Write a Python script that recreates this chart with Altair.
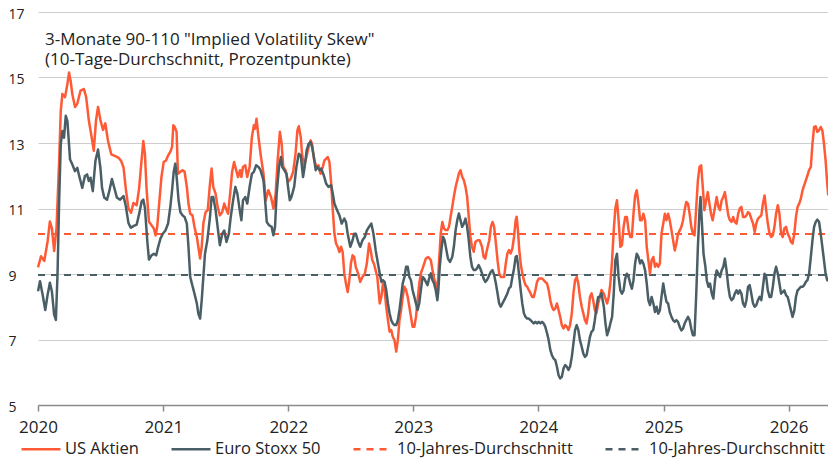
import altair as alt
import numpy as np
import pandas as pd

START = (2020, 1, 1)
END = (2026, 4, 26)

# time offsets in years since 2020-01-01 and values (percentage points)
US_T = [0.000, 0.024, 0.050, 0.077, 0.095, 0.111, 0.129, 0.148, 0.169, 0.182, 0.195, 0.216, 0.235, 0.248, 0.261,
        0.274, 0.296, 0.314, 0.340, 0.367, 0.385, 0.406, 0.428, 0.446, 0.464, 0.480, 0.499, 0.520, 0.538, 0.560,
        0.586, 0.618, 0.644, 0.665, 0.684, 0.702, 0.723, 0.744, 0.763, 0.789, 0.808, 0.823, 0.842, 0.855, 0.868,
        0.887,
        0.926, 0.940, 0.953, 0.971, 0.987, 1.005, 1.024, 1.040, 1.058, 1.072, 1.082, 1.093, 1.108, 1.119, 1.138,
        1.156, 1.172, 1.190, 1.203, 1.217, 1.235, 1.251, 1.270, 1.282, 1.296, 1.309, 1.322, 1.340, 1.357, 1.375,
        1.388, 1.401, 1.420, 1.436, 1.454, 1.473, 1.489, 1.507, 1.520, 1.539, 1.552, 1.568, 1.584, 1.599, 1.615,
        1.626, 1.639, 1.657, 1.673, 1.692, 1.710, 1.726, 1.736, 1.747, 1.763, 1.779,
        1.803, 1.821, 1.842, 1.863, 1.882, 1.900, 1.916, 1.934, 1.948, 1.961, 1.979, 1.999, 2.021, 2.040, 2.059,
        2.074, 2.085, 2.101, 2.111, 2.127, 2.146, 2.164, 2.180, 2.191, 2.206, 2.225, 2.243, 2.259, 2.277, 2.290,
        2.304, 2.317, 2.330, 2.344, 2.357, 2.370, 2.383, 2.396, 2.410, 2.423, 2.436, 2.449, 2.462, 2.476, 2.489,
        2.502, 2.515, 2.528, 2.541, 2.560, 2.576, 2.594, 2.613, 2.629, 2.647, 2.660, 2.673, 2.687,
        2.713, 2.732, 2.745, 2.758, 2.771, 2.784, 2.798, 2.811, 2.824, 2.837, 2.850, 2.864, 2.877, 2.890, 2.903,
        2.916, 2.930, 2.943, 2.956, 2.969, 2.982, 2.995, 3.009, 3.022, 3.035, 3.048, 3.061, 3.075, 3.088, 3.101,
        3.120, 3.141, 3.154, 3.167, 3.180, 3.193, 3.207, 3.220, 3.233, 3.246, 3.259, 3.273, 3.286, 3.299, 3.312,
        3.325, 3.339, 3.352, 3.365, 3.378, 3.391, 3.405, 3.418, 3.431, 3.444, 3.457, 3.470, 3.484, 3.497, 3.515,
        3.531, 3.550, 3.563, 3.576, 3.589,
        3.608, 3.621, 3.634, 3.647, 3.661, 3.674, 3.687, 3.700, 3.713, 3.727, 3.740, 3.753, 3.766, 3.779, 3.793,
        3.806, 3.819, 3.827, 3.837, 3.848, 3.859, 3.872, 3.885, 3.898, 3.911, 3.924, 3.938, 3.951, 3.964, 3.977,
        3.990, 4.004, 4.017, 4.030, 4.043, 4.056, 4.070, 4.083, 4.096, 4.109, 4.122, 4.136, 4.149, 4.162, 4.175,
        4.188, 4.202, 4.215, 4.228, 4.241, 4.254, 4.268, 4.281, 4.294, 4.307, 4.320, 4.333, 4.347, 4.360, 4.373,
        4.386, 4.399, 4.413, 4.426, 4.439, 4.452, 4.465, 4.479, 4.492, 4.505,
        4.524, 4.537, 4.550, 4.563, 4.576, 4.590, 4.603, 4.616, 4.629, 4.642, 4.656, 4.669, 4.682, 4.695, 4.708,
        4.722, 4.735, 4.748, 4.761, 4.774, 4.787, 4.801, 4.814, 4.827, 4.840, 4.854, 4.867, 4.880, 4.893, 4.906,
        4.920, 4.933, 4.946, 4.959, 4.972, 4.985, 4.999, 5.012, 5.025, 5.038, 5.051, 5.065, 5.078, 5.091, 5.104,
        5.117, 5.131, 5.144, 5.157, 5.170, 5.183, 5.197, 5.210, 5.223, 5.236, 5.249, 5.263, 5.276, 5.289, 5.302,
        5.315, 5.328, 5.342, 5.355, 5.368, 5.381, 5.394,
        5.413, 5.426, 5.440, 5.453, 5.466, 5.479, 5.492, 5.505, 5.519, 5.532, 5.545, 5.558, 5.571, 5.585, 5.598,
        5.611, 5.624, 5.637, 5.651, 5.664, 5.677, 5.690, 5.703, 5.717, 5.730, 5.743, 5.756, 5.769, 5.783, 5.796,
        5.809, 5.822, 5.835, 5.849, 5.862, 5.875, 5.888, 5.901, 5.915, 5.928, 5.941, 5.954, 5.967, 5.981, 5.994,
        6.007, 6.020, 6.033, 6.047, 6.060, 6.073, 6.086, 6.099, 6.113, 6.126, 6.139, 6.152, 6.165, 6.179, 6.192,
        6.205, 6.218, 6.231, 6.245, 6.258, 6.271, 6.284, 6.297, 6.310, 6.318]
US_V = [9.2, 9.54, 9.4, 10.0, 10.6, 10.4, 9.7, 10.4, 12.45, 13.98, 14.5, 14.4, 14.8, 15.15, 14.9,
        14.5, 14.1, 14.2, 14.6, 14.65, 14.4, 13.7, 13.2, 12.76, 13.7, 14.1, 13.7, 13.4, 13.6, 13.06,
        12.65, 12.6, 12.55, 12.45, 12.25, 11.6, 11.0, 10.87, 11.17, 11.1, 11.6, 12.25, 13.06, 12.65, 11.6,
        10.6,
        10.39, 10.18, 10.44, 11.25, 11.96, 12.42, 12.47, 12.62, 12.73, 12.88, 13.54, 13.49, 13.34, 12.06, 12.12,
        12.17, 12.12, 11.66, 11.15, 10.84, 10.79, 10.44, 10.13, 9.83, 9.47, 9.83, 10.54, 10.89, 10.95, 11.76,
        12.22, 11.66, 11.45, 11.05, 10.79, 10.89, 11.15, 10.95, 10.84, 11.56, 12.12, 12.42, 12.17, 11.96, 12.17,
        11.96, 12.27, 12.32, 11.96, 12.27, 13.18, 13.54, 13.44, 13.74, 13.18, 12.67,
        12.06, 11.25, 11.56, 11.35, 11.0, 11.45, 12.47, 13.34, 12.98, 12.27, 12.17, 11.81, 11.91, 12.12, 12.67,
        13.39, 13.51, 13.18, 12.67, 12.27, 12.57, 12.88, 13.08, 12.98, 12.52, 12.27, 12.32, 12.06, 12.27, 12.47,
        12.52, 12.57, 12.42, 11.76, 10.95, 10.23, 9.93, 9.83, 9.67, 9.83, 9.67, 9.01, 8.71, 8.45, 8.81,
        9.32, 9.57, 9.52, 9.21, 9.01, 8.76, 8.91, 9.01, 9.32, 9.93, 9.72, 9.42, 9.3,
        8.91, 8.1, 8.3, 8.71, 8.51, 8.0, 7.59, 7.24, 7.29, 7.08, 6.98, 6.63, 6.98, 7.59, 7.9,
        8.3, 8.61, 8.51, 8.3, 8.0, 7.69, 7.39, 7.39, 7.69, 8.2, 8.71, 9.02, 9.17, 9.32, 9.47,
        9.52, 9.42, 9.12, 8.86, 8.71, 8.41, 9.42, 10.24, 10.59, 10.39, 10.34, 10.34, 10.44, 10.75, 11.05,
        11.36, 11.66, 11.86, 12.07, 12.17, 11.97, 11.86, 11.66, 11.36, 10.75, 10.14, 9.83, 9.68, 9.98, 10.03,
        10.03, 9.83, 9.52, 9.47, 9.73,
        10.03, 10.44, 10.59, 10.44, 9.93, 9.42, 9.02, 8.91, 8.91, 8.91, 9.32, 9.63, 9.73, 9.63, 9.78,
        10.14, 10.64, 10.75, 10.34, 9.73, 9.32, 9.02, 8.81, 8.66, 8.61, 8.51, 8.41, 8.3, 8.3, 8.51,
        8.76, 8.86, 8.86, 8.86, 8.81, 8.76, 8.71, 8.51, 8.2, 8.0, 7.9, 7.95, 8.1, 7.9, 7.69,
        7.44, 7.34, 7.44, 7.39, 7.29, 7.44, 7.8, 8.41, 8.81, 8.91, 8.71, 8.3, 8.0, 7.8, 7.59,
        7.49, 7.8, 8.3, 8.41, 8.2, 7.9, 7.8, 8.1, 8.3, 8.51,
        8.4, 8.25, 8.1, 8.3, 8.71, 9.42, 10.33, 11.0, 11.25, 10.64, 9.83, 9.88, 10.44, 10.74, 10.74,
        10.33, 10.13, 10.13, 10.84, 11.4, 11.56, 11.15, 10.64, 10.64, 10.84, 10.64, 9.83, 9.42, 9.01, 9.42,
        9.52, 9.22, 9.32, 9.22, 9.32, 10.23, 10.54, 10.84, 10.64, 10.84, 10.64, 10.33, 10.03, 9.72, 9.93,
        10.23, 10.33, 10.44, 10.64, 10.95, 11.2, 11.15, 10.84, 10.44, 10.23, 10.18, 11.05, 11.86, 12.27, 12.32,
        11.66, 10.95, 11.25, 11.5, 11.15, 10.84, 10.64,
        11.05, 11.35, 11.05, 10.95, 11.25, 11.35, 11.5, 11.15, 10.79, 10.64, 10.59, 10.74, 10.59, 10.54, 10.84,
        11.0, 11.05, 10.74, 10.74, 10.79, 10.89, 10.84, 10.69, 10.54, 10.28, 10.54, 10.69, 10.74, 10.79, 11.15,
        11.4, 10.95, 10.54, 10.23, 10.13, 10.18, 10.44, 10.84, 11.1, 10.84, 10.23, 10.13, 10.39, 10.44, 10.23,
        10.13, 9.98, 9.93, 10.23, 10.74, 11.05, 11.15, 11.3, 11.56, 11.71, 11.86, 12.01, 12.17, 12.27, 12.98,
        13.49, 13.51, 13.34, 13.39, 13.49, 13.39, 12.98, 12.47, 11.76, 11.4]

EU_T = [0.000, 0.016, 0.037, 0.058, 0.077, 0.095, 0.111, 0.129, 0.143, 0.156, 0.169, 0.182, 0.195, 0.208, 0.222,
        0.235, 0.248, 0.256, 0.274, 0.296, 0.314, 0.333, 0.354, 0.375, 0.393, 0.406, 0.420, 0.438, 0.459, 0.480,
        0.499, 0.512, 0.530, 0.552, 0.570, 0.591, 0.610, 0.631, 0.657, 0.684, 0.702, 0.723, 0.742, 0.763, 0.789,
        0.808, 0.829, 0.842, 0.855, 0.874, 0.887,
        0.908, 0.926, 0.945, 0.961, 0.979, 0.998, 1.019, 1.040, 1.058, 1.072, 1.085, 1.098, 1.111, 1.124, 1.138,
        1.156, 1.172, 1.190, 1.203, 1.217, 1.230, 1.251, 1.270, 1.282, 1.296, 1.309, 1.322, 1.335, 1.354, 1.375,
        1.388, 1.401, 1.420, 1.436, 1.454, 1.473, 1.489, 1.507, 1.526, 1.541, 1.560, 1.578, 1.594, 1.613, 1.626,
        1.639, 1.657, 1.673, 1.692, 1.710, 1.726, 1.744, 1.763, 1.779,
        1.803, 1.816, 1.829, 1.847, 1.868, 1.882, 1.895, 1.908, 1.927, 1.942, 1.953, 1.969, 1.987, 1.999, 2.013,
        2.026, 2.048, 2.066, 2.085, 2.101, 2.119, 2.132, 2.148, 2.164, 2.180, 2.191, 2.206, 2.220, 2.233, 2.252,
        2.264, 2.285, 2.304, 2.322, 2.344, 2.357, 2.370, 2.391, 2.410, 2.428, 2.449, 2.462, 2.476, 2.497, 2.515,
        2.528, 2.541, 2.560, 2.576, 2.594, 2.613, 2.629, 2.647, 2.665, 2.682, 2.700,
        2.718, 2.732, 2.745, 2.758, 2.771, 2.784, 2.798, 2.811, 2.824, 2.837, 2.850, 2.864, 2.877, 2.890, 2.903,
        2.916, 2.930, 2.943, 2.956, 2.969, 2.982, 2.995, 3.009, 3.022, 3.035, 3.048, 3.061, 3.075, 3.088, 3.101,
        3.114, 3.127, 3.141, 3.154, 3.167, 3.180, 3.193, 3.201, 3.212, 3.225, 3.238, 3.251, 3.265, 3.278, 3.294,
        3.312, 3.325, 3.339, 3.352, 3.365, 3.378, 3.391, 3.405, 3.418, 3.431, 3.444, 3.457, 3.470, 3.484, 3.497,
        3.510, 3.523, 3.536, 3.550, 3.563, 3.576, 3.589, 3.602,
        3.608, 3.621, 3.634, 3.647, 3.661, 3.674, 3.687, 3.700, 3.713, 3.727, 3.740, 3.753, 3.766, 3.779, 3.793,
        3.806, 3.819, 3.827, 3.837, 3.848, 3.859, 3.872, 3.885, 3.898, 3.911, 3.924, 3.938, 3.951, 3.964, 3.977,
        3.990, 4.004, 4.017, 4.030, 4.043, 4.056, 4.070, 4.083, 4.096, 4.109, 4.122, 4.136, 4.149, 4.162, 4.175,
        4.188, 4.202, 4.215, 4.228, 4.241, 4.254, 4.268, 4.281, 4.294, 4.307, 4.320, 4.333, 4.347, 4.360, 4.373,
        4.386, 4.399, 4.413, 4.426, 4.439, 4.452, 4.465, 4.479, 4.492, 4.505,
        4.510, 4.524, 4.537, 4.550, 4.563, 4.576, 4.590, 4.603, 4.616, 4.629, 4.642, 4.656, 4.669, 4.682, 4.695,
        4.708, 4.722, 4.735, 4.748, 4.761, 4.774, 4.787, 4.801, 4.814, 4.827, 4.840, 4.854, 4.867, 4.880, 4.893,
        4.906, 4.920, 4.933, 4.946, 4.959, 4.972, 4.985, 4.999, 5.012, 5.025, 5.038, 5.051, 5.065, 5.078, 5.091,
        5.104, 5.117, 5.131, 5.144, 5.157, 5.170, 5.183, 5.197, 5.210, 5.223, 5.236, 5.249, 5.263, 5.276, 5.289,
        5.297, 5.307, 5.321, 5.336, 5.347, 5.360, 5.373, 5.387, 5.400, 5.408,
        5.413, 5.426, 5.440, 5.453, 5.466, 5.479, 5.492, 5.505, 5.519, 5.532, 5.545, 5.558, 5.571, 5.585, 5.598,
        5.611, 5.624, 5.637, 5.651, 5.664, 5.677, 5.690, 5.703, 5.717, 5.730, 5.743, 5.756, 5.769, 5.783, 5.796,
        5.809, 5.822, 5.835, 5.849, 5.862, 5.875, 5.888, 5.901, 5.915, 5.928, 5.941, 5.954, 5.967, 5.981, 5.994,
        6.007, 6.020, 6.033, 6.047, 6.060, 6.073, 6.086, 6.099, 6.113, 6.126, 6.139, 6.152, 6.165, 6.179, 6.192,
        6.205, 6.218, 6.231, 6.245, 6.258, 6.271, 6.284, 6.297, 6.310, 6.318]
EU_V = [8.47, 8.78, 8.37, 7.9, 8.37, 8.73, 8.47, 7.76, 7.6, 8.98, 11.22, 12.96, 13.37, 13.16, 13.83,
        13.67, 12.96, 12.5, 12.35, 12.14, 12.24, 11.94, 11.63, 11.99, 12.04, 11.84, 11.94, 11.53, 12.45, 12.8,
        12.24, 11.63, 11.33, 11.27, 11.53, 11.9, 11.63, 11.33, 11.27, 11.38, 11.07, 10.56, 10.41, 10.46, 10.51,
        10.82, 11.22, 11.27, 11.02, 10.0, 9.44,
        9.57, 9.62, 9.57, 9.83, 10.08, 10.23, 10.33, 10.54, 11.05, 11.56, 12.12, 12.37, 11.86, 11.25, 10.89,
        10.79, 10.74, 10.54, 9.83, 8.91, 8.71, 8.4, 8.1, 7.79, 7.64, 8.2, 8.91, 9.62, 10.03, 10.74,
        11.35, 11.35, 10.95, 10.44, 9.88, 10.23, 10.33, 9.98, 10.23, 10.74, 11.25, 11.66, 11.45, 10.95, 10.64,
        11.25, 11.35, 11.15, 11.66, 12.06, 12.12, 12.32, 12.27, 12.17,
        11.86, 11.25, 10.59, 10.49, 10.44, 10.18, 10.44, 11.45, 12.27, 12.57, 12.27, 12.17, 12.06, 11.66, 11.25,
        11.35, 11.66, 12.27, 12.67, 12.62, 11.96, 12.27, 12.78, 12.98, 13.03, 12.88, 12.57, 12.17, 12.27, 12.17,
        12.22, 12.01, 11.76, 11.66, 11.71, 11.45, 11.15, 10.95, 10.79, 10.54, 10.69, 10.59, 10.23, 9.83, 10.03,
        10.23, 10.23, 9.98, 9.83, 10.03, 10.13, 10.33, 10.44, 10.54, 10.23, 9.72,
        9.32, 9.02, 8.76, 8.81, 8.76, 8.51, 8.1, 7.8, 7.59, 7.49, 7.44, 7.44, 7.59, 7.9, 8.3,
        8.71, 8.91, 9.22, 9.22, 8.91, 8.81, 8.51, 8.3, 8.1, 7.9, 8.1, 8.51, 8.91, 8.86, 8.76,
        8.66, 8.86, 9.02, 8.81, 8.71, 8.51, 8.2, 8.51, 9.22, 9.73, 10.14, 10.03, 9.73, 9.47, 9.37,
        9.52, 9.83, 10.34, 10.64, 10.85, 10.64, 10.44, 10.54, 10.69, 10.44, 10.03, 9.52, 9.22, 9.12, 9.12,
        9.17, 9.27, 9.17, 9.02, 8.86, 8.76, 8.81, 8.91,
        8.97, 9.07, 9.12, 8.97, 8.71, 8.41, 8.1, 8.0, 8.1, 8.2, 8.3, 8.41, 8.56, 8.61, 8.91,
        9.17, 9.52, 9.55, 9.32, 8.91, 8.51, 8.1, 7.8, 7.69, 7.64, 7.64, 7.59, 7.54, 7.49, 7.54,
        7.49, 7.54, 7.49, 7.54, 7.49, 7.39, 7.19, 6.98, 6.68, 6.52, 6.42, 6.37, 6.17, 5.91, 5.81,
        5.86, 6.12, 6.22, 6.17, 6.07, 6.17, 6.47, 6.88, 7.29, 7.44, 7.29, 6.98, 6.78, 6.57, 6.47,
        6.52, 6.78, 7.08, 7.24, 7.29, 7.59, 8.0, 8.3, 8.3, 8.41,
        8.3, 8.0, 7.49, 7.13, 7.28, 7.49, 7.69, 8.4, 9.42, 9.62, 8.91, 8.5, 8.4, 8.5, 8.86,
        9.01, 8.91, 8.71, 8.55, 8.81, 9.32, 9.62, 9.52, 9.32, 9.42, 9.32, 9.11, 8.71, 8.2, 8.05,
        8.3, 8.1, 7.84, 8.0, 7.79, 7.89, 8.3, 8.71, 8.4, 8.15, 8.1, 7.84, 7.69, 7.59, 7.54,
        7.59, 7.54, 7.38, 7.28, 7.33, 7.49, 7.59, 7.69, 7.59, 7.33, 7.13, 7.13, 8.4, 9.83, 10.95,
        11.35, 10.64, 9.62, 9.22, 8.81, 8.61, 8.71, 8.4, 8.25, 8.61,
        8.81, 9.11, 9.01, 8.91, 9.11, 9.22, 9.47, 9.11, 8.61, 8.3, 8.2, 8.25, 8.4, 8.5, 8.4,
        8.5, 8.4, 8.1, 8.0, 8.2, 8.61, 8.66, 8.4, 8.1, 8.0, 8.05, 8.2, 8.3, 8.2, 8.61,
        9.01, 8.91, 8.5, 8.3, 8.3, 8.61, 9.01, 9.22, 9.01, 8.71, 8.4, 8.45, 8.5, 8.35, 8.3,
        8.1, 7.89, 7.69, 7.89, 8.3, 8.5, 8.55, 8.61, 8.61, 8.66, 8.76, 8.81, 9.01, 9.52, 10.03,
        10.44, 10.59, 10.66, 10.59, 10.23, 9.83, 9.42, 9.01, 8.81, 8.8]

AVG_US = 10.22
AVG_EU = 8.97

SERIES = ["US Aktien", "Euro Stoxx 50", "10-Jahres-Durchschnitt (US)", "10-Jahres-Durchschnitt (EU)"]
COLORS = ["#FF5A36", "#4A5E66", "#FF5A36", "#4A5E66"]
DASHES = [[1, 0], [1, 0], [7, 6], [7, 6]]
YEARS = list(range(2020, 2027))
Y_TICKS = [5, 7, 9, 11, 13, 15, 17]
TITLE_LINE_1 = '3-Monate 90-110 "Implied Volatility Skew"'
TITLE_LINE_2 = "(10-Tage-Durchschnitt, Prozentpunkte)"

FONT = "Open Sans"
TEXT = "#222222"

start_ts = pd.Timestamp(*START)
end_ts = pd.Timestamp(*END)


def to_dates(offsets):
    return start_ts + pd.to_timedelta(np.asarray(offsets) * 365.25, unit="D")


us = pd.DataFrame({"date": to_dates(US_T), "value": US_V, "series": SERIES[0]})
eu = pd.DataFrame({"date": to_dates(EU_T), "value": EU_V, "series": SERIES[1]})
avgs = pd.DataFrame({
    "date": [start_ts, end_ts, start_ts, end_ts],
    "value": [AVG_US, AVG_US, AVG_EU, AVG_EU],
    "series": [SERIES[2], SERIES[2], SERIES[3], SERIES[3]],
})

legend = alt.Legend(
    orient="none", legendX=-18, legendY=416, direction="horizontal", title=None,
    symbolType="stroke", symbolSize=1521, symbolStrokeWidth=2.5,
    labelFont=FONT, labelFontSize=16.5, labelColor=TEXT, labelLimit=400,
    labelOffset=3, columnPadding=27, padding=0,
    labelExpr="indexof(datum.label, '10-Jahres') == 0 ? '10-Jahres-Durchschnitt' : datum.label",
)

x_enc = alt.X(
    "date:T",
    scale=alt.Scale(domain=[alt.DateTime(year=START[0], month=START[1], date=START[2]),
                            alt.DateTime(year=END[0], month=END[1], date=END[2])]),
    axis=alt.Axis(values=[alt.DateTime(year=y, month=1, date=1) for y in YEARS], format="%Y", title=None,
                  labelFlush=False),
)
y_enc = alt.Y(
    "value:Q",
    scale=alt.Scale(domain=[Y_TICKS[0], Y_TICKS[-1]], nice=False, zero=False),
    axis=alt.Axis(values=Y_TICKS, title=None),
)
color_enc = alt.Color("series:N", scale=alt.Scale(domain=SERIES, range=COLORS), legend=legend)
dash_enc = alt.StrokeDash("series:N", scale=alt.Scale(domain=SERIES, range=DASHES), legend=legend)

avg_layer = alt.Chart(avgs).mark_line(strokeWidth=2).encode(
    x=x_enc, y=y_enc, color=color_enc, strokeDash=dash_enc, detail="series:N")
us_layer = alt.Chart(us).mark_line(strokeWidth=2.5, strokeJoin="round").encode(
    x=x_enc, y=y_enc, color=color_enc, strokeDash=dash_enc)
eu_layer = alt.Chart(eu).mark_line(strokeWidth=2.5, strokeJoin="round").encode(
    x=x_enc, y=y_enc, color=color_enc, strokeDash=dash_enc)

dummy = pd.DataFrame({"k": [0]})
title_style = dict(align="left", baseline="alphabetic", font=FONT, fontSize=17, color=TEXT)
title_1 = alt.Chart(dummy).mark_text(**title_style).encode(
    x=alt.value(7), y=alt.value(32.5), text=alt.value(TITLE_LINE_1))
title_2 = alt.Chart(dummy).mark_text(**title_style).encode(
    x=alt.value(7), y=alt.value(52.5), text=alt.value(TITLE_LINE_2))

chart = alt.layer(avg_layer, us_layer, eu_layer, title_1, title_2).properties(
    width=790, height=393,
    padding={"left": 30, "top": 4, "right": 0, "bottom": 53},
    autosize=alt.AutoSizeParams(type="none"),
).configure(background="white").configure_view(stroke=None).configure_axis(
    labelFont=FONT, labelColor=TEXT,
).configure_axisX(
    grid=False, domainColor="#8A8A8A", domainWidth=1.5, tickColor="#8A8A8A", tickWidth=1.5,
    tickSize=6, labelFontSize=17, labelPadding=8,
).configure_axisY(
    grid=True, gridColor="#CDCDCD", gridWidth=1, domain=False, ticks=False, tickSize=0,
    labelAlign="left", labelPadding=30, labelFontSize=14, labelOffset=2,
)

chart.save("out.html", embed_options={"renderer": "svg", "actions": False})
